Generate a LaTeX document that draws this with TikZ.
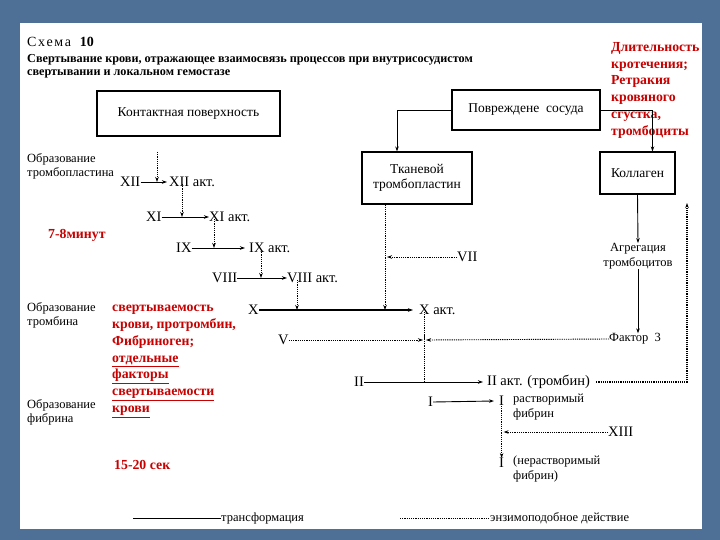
\documentclass[tikz,border=0pt]{standalone}
\usepackage{fontspec}
\setmainfont{Liberation Serif}
\usetikzlibrary{arrows.meta,calc}
\definecolor{bgblue}{RGB}{78,112,150}
\definecolor{redtxt}{RGB}{200,0,0}
\begin{document}
\begin{tikzpicture}[x=1pt,y=-1pt,
  lbl/.style={inner sep=0pt, font=\fontsize{12.5}{14.5}\selectfont, align=left},
  num/.style={inner sep=0pt, font=\fontsize{14.5}{16}\selectfont, anchor=west},
  boxnode/.style={draw, line width=1.1pt, inner sep=2pt, align=center, font=\fontsize{13.5}{15.5}\selectfont},
  redt/.style={inner sep=0pt, text=redtxt, font=\bfseries\fontsize{13.8}{16.8}\selectfont, align=left},
  arr/.style={line width=0.9pt, -{Stealth[length=5pt,width=3.5pt]}},
  dotl/.style={line width=0.9pt, dash pattern=on 1.2pt off 1pt},
  darr/.style={dotl, -{Stealth[length=5pt,width=3.5pt]}}
]
\useasboundingbox (0,0) rectangle (720,540);
\fill[bgblue] (0,0) rectangle (720,540);
\fill[white] (20,23) rectangle (702,529);

% heading
\node[inner sep=0pt, anchor=west, font=\fontsize{14}{16}\selectfont] (schema) at (27,42) {{\addfontfeature{LetterSpace=12}Схема}\hspace{7pt}\textbf{10}};
\node[inner sep=0pt, anchor=west, font=\bfseries\fontsize{12.2}{14}\selectfont] (title1) at (27,60) {Свертывание крови, отражающее взаимосвязь процессов при внутрисосудистом};
\node[inner sep=0pt, anchor=west, font=\bfseries\fontsize{12.2}{14}\selectfont] (title2) at (27,74) {свертывании и локальном гемостазе};

% boxes
\node[boxnode, minimum width=183pt, minimum height=45pt] (kont) at (188.5,113.5) {Контактная поверхность};
\node[boxnode, minimum width=148pt, minimum height=40pt] (povr) at (526,110) {Повреждене\ \ сосуда};
\node[boxnode, minimum width=110pt, minimum height=52pt] (tkan) at (417,178) {Тканевой\\тромбопластин};
\node[boxnode, minimum width=75pt, minimum height=42pt] (kol) at (637.5,173) {Коллаген};

\node[lbl, align=center] (agr) at (638,256) {Агрегация\\тромбоцитов};
\node[num, font=\fontsize{12.5}{15}\selectfont] (fak3) at (609,339) {Фактор\ \ 3};

% red notes
\node[redt, anchor=north west] (rnote) at (611,42) {Длительность\\кротечения;\\Ретракия\\кровяного\\сгустка,\\тромбоциты};
\node[redt, anchor=west] (t78) at (48,235) {7-8минут};
\node[redt, anchor=north west] (rblock) at (112,305) {свертываемость\\крови, протромбин,\\Фибриноген;\\\underline{отдельные}\\\underline{факторы}\\\underline{свертываемости}\\\underline{крови}};
\node[redt, anchor=west] (t1520) at (114,465) {15-20 сек};

% left labels
\node[lbl, anchor=north west] (obr1) at (27,153) {Образование\\тромбопластина};
\node[lbl, anchor=north west] (obr2) at (27,302) {Образование\\тромбина};
\node[lbl, anchor=north west] (obr3) at (27,399) {Образование\\фибрина};

% cascade
\node[num] (xii) at (120,182) {XII};
\node[num] (xiiakt) at (169,182) {XII акт.};
\node[num] (xi) at (146,217) {XI};
\node[num] (xiakt) at (209,217) {XI акт.};
\node[num] (ix) at (176,248) {IX};
\node[num] (ixakt) at (249,248) {IX акт.};
\node[num] (viii) at (212,278) {VIII};
\node[num] (viiiakt) at (287,278) {VIII акт.};
\node[num] (x) at (248,310) {X};
\node[num] (xakt) at (419,310) {X акт.};
\node[num] (vii) at (457,257) {VII};
\node[num] (v) at (278,340) {V};
\node[num] (ii) at (354,382) {II};
\node[num] (iiakt) at (487,382) {II акт. (тромбин)};
\node[num] (i) at (428,402) {I};
\node[num] (irI) at (499,401) {I};
\node[lbl, anchor=north west] (irT) at (513,394) {растворимый\\фибрин};
\node[num] (xiii) at (608,432) {XIII};
\node[num] (inI) at (499,463) {I};
\node[lbl, anchor=north west] (inT) at (513,456) {(нерастворимый\\фибрин)};

% legend
\coordinate (ls) at (133,518);
\node[lbl, anchor=west] (lt) at (221,518) {трансформация};
\coordinate (ld) at (400,518);
\node[lbl, anchor=west] (le) at (490,518) {энзимоподобное действие};
\draw[line width=0.9pt] (ls) -- (lt.west);
\draw[dotl] (ld) -- (le.west);

% box connectors
\draw[arr] (povr.west) -| ([xshift=-20pt]tkan.north);
\draw[arr] (povr.east) -| ([xshift=15pt]kol.north);
\draw[arr] (kol.south) -- (agr.north);
\draw[arr] (agr.south) -- (agr.south |- fak3.north);

% solid transformation arrows
\draw[arr] (xii.east) -- ([xshift=-2pt]xiiakt.west);
\draw[arr] (xi.east) -- (xiakt.west);
\draw[arr] (ix.east) -- ([xshift=-4pt]ixakt.west);
\draw[arr] (viii.east) -- (viiiakt.west);
\draw[arr, line width=1.4pt] (x.east) -- ([xshift=-6pt]xakt.west);
\draw[arr] (ii.east) -- ([xshift=-4pt]iiakt.west);
\draw[arr] (i.east) -- ([xshift=-5pt]irI.west);

% dotted enzyme arrows
\coordinate (t0) at (157,152);
\coordinate (d12) at ([xshift=13pt]xiiakt.south west);
\coordinate (d11) at ([xshift=5pt]xiakt.south west);
\coordinate (d9) at ([xshift=12pt]ixakt.south west);
\coordinate (d8) at ([xshift=10pt]viiiakt.south west);
\coordinate (dt) at ([xshift=-32pt]tkan.south);
\coordinate (dx) at ([xshift=5pt]xakt.south west);
\draw[darr] (t0) -- (t0 |- xii.east);
\draw[darr] ([yshift=3pt]d12) -- (d12 |- xi.east);
\draw[darr] ([yshift=3pt]d11) -- (d11 |- ix.east);
\draw[darr] ([yshift=3pt]d9) -- (d9 |- viii.east);
\draw[darr] ([yshift=3pt]d8) -- (d8 |- x.east);
\draw[darr] (dt) -- (dt |- x.east);
\draw[darr] (vii.west) -- ([xshift=2pt]dt |- vii.west);
\draw[dotl] ([yshift=3pt]dx) -- ([yshift=-6pt]dx |- v.east);
\draw[dotl] ([yshift=10pt]dx |- v.east) -- (dx |- ii.east);
\draw[darr] (v.east) -- ([xshift=-1pt]dx |- v.east);
\draw[darr] (fak3.west) -- ([xshift=2pt]dx |- v.east);
\coordinate (fb) at (687,203);
\draw[darr, line width=1.2pt] ([xshift=6pt]iiakt.east) -| (fb);
\draw[darr] (irI.south) -- (inI.north);
\draw[darr] (xiii.west) -- ([xshift=2pt]irI.south |- xiii.west);
\end{tikzpicture}
\end{document}
